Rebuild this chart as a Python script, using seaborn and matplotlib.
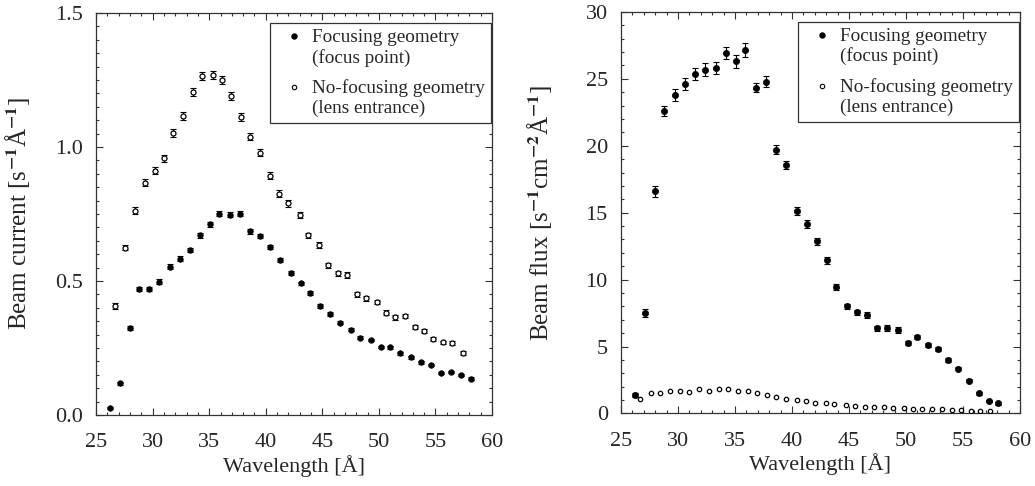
import matplotlib
matplotlib.use("Agg")
import numpy as np
import pandas as pd
import seaborn as sns
import matplotlib.pyplot as plt
from matplotlib.lines import Line2D
from matplotlib.legend_handler import HandlerLine2D
from matplotlib.ticker import MultipleLocator, FormatStrFormatter

# ---------------- data ----------------
wl_focus = [26.2, 27.1, 28.0, 28.8, 29.7, 30.6, 31.5, 32.4, 33.3, 34.2, 35.1, 35.9,
            36.8, 37.7, 38.6, 39.5, 40.4, 41.3, 42.2, 43.1, 43.9, 44.8, 45.7, 46.6,
            47.5, 48.3, 49.3, 50.2, 51.0, 51.9, 52.8, 53.7, 54.6, 55.5, 56.4, 57.3, 58.1]
wl_nofocus = [26.7, 27.6, 28.4, 29.3, 30.2, 31.0, 31.8, 32.7, 33.6, 34.4, 35.3, 36.1,
              36.9, 37.8, 38.6, 39.5, 40.4, 41.2, 42.0, 43.0, 43.7, 44.7, 45.5, 46.4,
              47.2, 48.1, 48.9, 49.8, 50.6, 51.4, 52.3, 53.2, 54.0, 54.8, 55.7, 56.5, 57.4]

current_focus = [0.025, 0.118, 0.326, 0.47, 0.47, 0.498, 0.554, 0.584, 0.615, 0.671, 0.712, 0.751,
                 0.747, 0.751, 0.685, 0.668, 0.626, 0.579, 0.529, 0.491, 0.455, 0.407, 0.377, 0.345,
                 0.318, 0.289, 0.28, 0.254, 0.252, 0.23, 0.215, 0.197, 0.187, 0.158, 0.162, 0.148, 0.136]
current_focus_err = [0.004, 0.005, 0.007, 0.008, 0.008, 0.008, 0.008, 0.008, 0.008, 0.009, 0.009, 0.009,
                     0.009, 0.009, 0.008, 0.008, 0.008, 0.008, 0.007, 0.007, 0.007, 0.007, 0.006, 0.006,
                     0.006, 0.006, 0.005, 0.005, 0.005, 0.005, 0.005, 0.005, 0.004, 0.004, 0.004, 0.004, 0.004]
current_nofocus = [0.407, 0.625, 0.763, 0.867, 0.912, 0.958, 1.052, 1.116, 1.204, 1.264, 1.268, 1.252,
                   1.19, 1.112, 1.039, 0.978, 0.893, 0.826, 0.79, 0.747, 0.67, 0.633, 0.558, 0.529,
                   0.522, 0.45, 0.435, 0.422, 0.382, 0.364, 0.37, 0.328, 0.314, 0.284, 0.271, 0.268, 0.23]
current_nofocus_err = [0.010, 0.011, 0.012, 0.013, 0.013, 0.013, 0.014, 0.014, 0.015, 0.015, 0.015, 0.015,
                       0.015, 0.014, 0.014, 0.013, 0.013, 0.012, 0.012, 0.012, 0.011, 0.011, 0.010, 0.010,
                       0.010, 0.009, 0.009, 0.009, 0.009, 0.008, 0.008, 0.008, 0.008, 0.007, 0.007, 0.007, 0.007]

flux_focus = [1.35, 7.5, 16.6, 22.6, 23.8, 24.6, 25.4, 25.7, 25.8, 26.95, 26.3, 27.15,
              24.35, 24.8, 19.7, 18.6, 15.1, 14.15, 12.85, 11.45, 9.45, 8.0, 7.55, 7.35,
              6.35, 6.4, 6.25, 5.25, 5.75, 5.15, 4.85, 4.0, 3.35, 2.45, 1.5, 0.95, 0.75]
flux_focus_err = [0.15, 0.3, 0.4, 0.4, 0.45, 0.45, 0.45, 0.45, 0.45, 0.45, 0.45, 0.5,
                  0.35, 0.4, 0.35, 0.3, 0.3, 0.3, 0.25, 0.25, 0.2, 0.2, 0.2, 0.2,
                  0.2, 0.2, 0.2, 0.15, 0.15, 0.15, 0.15, 0.15, 0.12, 0.1, 0.1, 0.08, 0.08]
flux_nofocus = [1.1, 1.5, 1.55, 1.7, 1.7, 1.6, 1.85, 1.7, 1.8, 1.8, 1.65, 1.65,
                1.5, 1.35, 1.2, 1.1, 1.0, 0.9, 0.8, 0.75, 0.7, 0.6, 0.55, 0.5,
                0.5, 0.45, 0.4, 0.4, 0.35, 0.3, 0.3, 0.3, 0.25, 0.25, 0.2, 0.2, 0.15]

label_focus = "Focusing geometry\n(focus point)"
label_nofocus = "No-focusing geometry\n(lens entrance)"
xticks = [25, 30, 35, 40, 45, 50, 55, 60]

# ---------------- style ----------------
sns.set_style("ticks")
plt.rcParams['font.family'] = ['Liberation Serif', 'DejaVu Serif']
plt.rcParams['mathtext.fontset'] = 'stix'
plt.rcParams['font.size'] = 16

fig = plt.figure(figsize=(10.35, 4.86), dpi=100)
axL = fig.add_axes([0.0928, 0.1461, 0.3826, 0.827])
axR = fig.add_axes([0.600, 0.1492, 0.3855, 0.8262])


class UpHandler(HandlerLine2D):
    def create_artists(self, legend, orig_handle, xdescent, ydescent, width, height, fontsize, trans):
        arts = super().create_artists(legend, orig_handle, xdescent, ydescent, width, height, fontsize, trans)
        for a in arts:
            if hasattr(a, 'set_ydata'):
                a.set_ydata([y + 0.58 * fontsize for y in a.get_ydata()])
        return arts


def style_axes(ax, ymax, ymaj, ymin, fmt):
    ax.set_xlim(25, 60)
    ax.set_ylim(0, ymax)
    ax.set_xticks(xticks)
    ax.xaxis.set_minor_locator(MultipleLocator(1))
    ax.yaxis.set_major_locator(MultipleLocator(ymaj))
    ax.yaxis.set_minor_locator(MultipleLocator(ymin))
    ax.yaxis.set_major_formatter(fmt)
    ax.tick_params(which='both', direction='in', top=True, right=True, color='#333333', width=0.8)
    ax.tick_params(which='major', length=5, labelsize=16)
    ax.tick_params(which='minor', length=2.5)
    ax.tick_params(axis='x', which='major', pad=13)
    ax.tick_params(axis='y', which='major', pad=9.5)
    for s in ax.spines.values():
        s.set_color('#333333')
        s.set_linewidth(0.9)
    ax.set_xlabel("Wavelength [Å]", fontsize=16, labelpad=2)


def add_legend(ax, ms_f, ms_o):
    hf = Line2D([], [], marker='o', ls='none', color='black', markersize=ms_f)
    ho = Line2D([], [], marker='o', ls='none', markerfacecolor='white', markeredgecolor='black',
                markersize=ms_o, markeredgewidth=0.8)
    leg = ax.legend([hf, ho], [label_focus, label_nofocus], loc='upper right',
                    bbox_to_anchor=(0.998, 0.975), borderaxespad=0, fontsize=13.8,
                    frameon=True, fancybox=False, edgecolor='#333333', framealpha=1,
                    handlelength=1.85, handletextpad=0.05, borderpad=0.3, labelspacing=0.65,
                    handler_map={Line2D: UpHandler()})
    leg.get_frame().set_linewidth(0.9)
    for t in leg.get_texts():
        t.set_linespacing(1.2)


# ---------------- left panel ----------------
axL.errorbar(wl_nofocus, current_nofocus, yerr=current_nofocus_err, fmt='none', ecolor='black',
             elinewidth=0.8, capsize=2, capthick=0.8, zorder=2)
axL.errorbar(wl_focus, current_focus, yerr=current_focus_err, fmt='none', ecolor='black',
             elinewidth=0.8, capsize=2, capthick=0.8, zorder=2)
sns.scatterplot(x=wl_focus, y=current_focus, ax=axL, color='black', edgecolor='black',
                s=16, linewidth=0.5, zorder=3, legend=False)
sns.scatterplot(x=wl_nofocus, y=current_nofocus, ax=axL, color='white', edgecolor='black',
                s=13, linewidth=0.9, zorder=3, legend=False)
style_axes(axL, 1.5, 0.5, 0.05, FormatStrFormatter('%.1f'))
axL.set_ylabel(r"Beam current [s$^{\mathbf{-1}}$Å$^{\mathbf{-1}}$]", fontsize=18)
axL.yaxis.set_label_coords(-0.162, 0.5)
add_legend(axL, 3.6, 3.2)

# ---------------- right panel ----------------
axR.errorbar(wl_focus, flux_focus, yerr=flux_focus_err, fmt='none', ecolor='black',
             elinewidth=0.8, capsize=2, capthick=0.8, zorder=2)
sns.scatterplot(x=wl_focus, y=flux_focus, ax=axR, color='black', edgecolor='black',
                s=20, linewidth=0.5, zorder=3, legend=False)
sns.scatterplot(x=wl_nofocus, y=flux_nofocus, ax=axR, color='white', edgecolor='black',
                s=10, linewidth=0.9, zorder=3, legend=False)
style_axes(axR, 30, 5, 1, FormatStrFormatter('%d'))
axR.set_ylabel(r"Beam flux [s$^{\mathbf{-1}}$cm$^{\mathbf{-2}}$Å$^{\mathbf{-1}}$]", fontsize=18)
axR.yaxis.set_label_coords(-0.168, 0.5)
add_legend(axR, 3.6, 3.2)

fig.savefig("out.png", dpi=100)
